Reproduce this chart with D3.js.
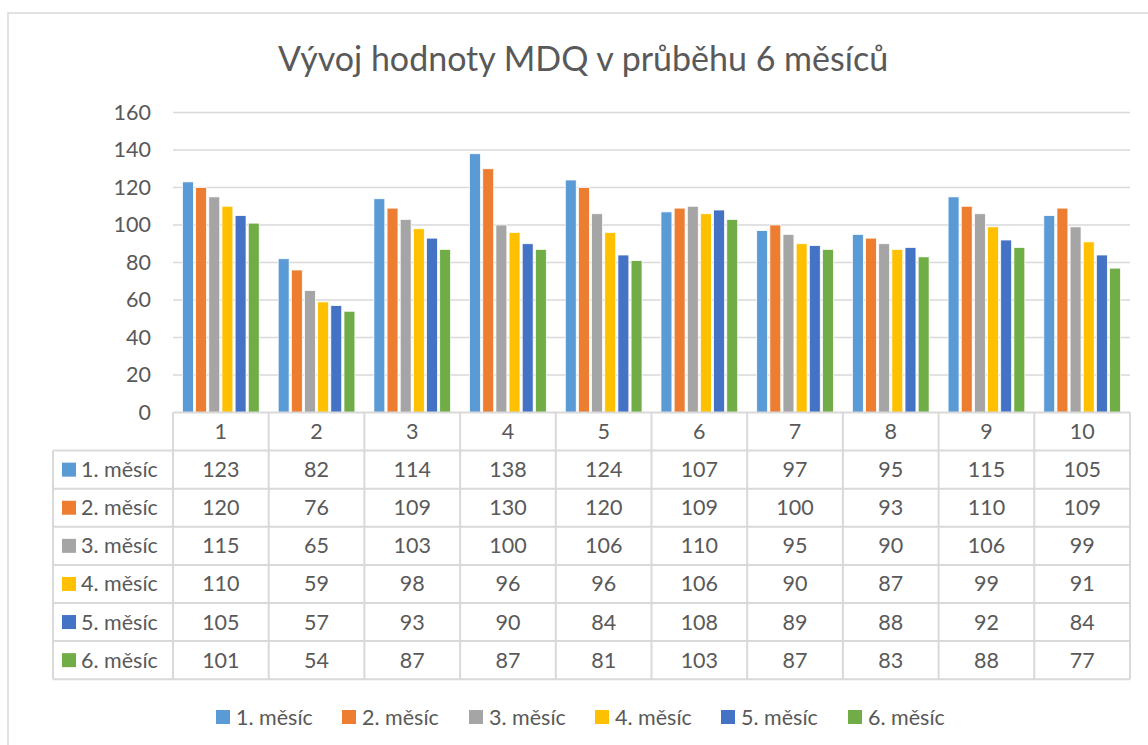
<!doctype html>
<html lang="cs">
  <head>
    <meta charset="UTF-8" />
    <title>Vývoj hodnoty MDQ</title>
    <script src="https://cdn.jsdelivr.net/npm/d3@7"></script>
    <style>
      body { margin: 0; background: #fff; }
      text { font-family: Lato, "Open Sans", sans-serif; fill: #595959; }
    </style>
  </head>
  <body>
    <div id="chart"></div>
    <script>
      const categories = ["1", "2", "3", "4", "5", "6", "7", "8", "9", "10"];
      const seriesNames = ["1. měsíc", "2. měsíc", "3. měsíc", "4. měsíc", "5. měsíc", "6. měsíc"];
      const month1 = [123, 82, 114, 138, 124, 107, 97, 95, 115, 105];
      const month2 = [120, 76, 109, 130, 120, 109, 100, 93, 110, 109];
      const month3 = [115, 65, 103, 100, 106, 110, 95, 90, 106, 99];
      const month4 = [110, 59, 98, 96, 96, 106, 90, 87, 99, 91];
      const month5 = [105, 57, 93, 90, 84, 108, 89, 88, 92, 84];
      const month6 = [101, 54, 87, 87, 81, 103, 87, 83, 88, 77];
      const yTicks = [0, 20, 40, 60, 80, 100, 120, 140, 160];
      const colors = ["#5B9BD5", "#ED7D31", "#A5A5A5", "#FFC000", "#4472C4", "#70AD47"];

      const values = [month1, month2, month3, month4, month5, month6];

      const width = 1148;
      const height = 745;
      const plotLeft = 173;
      const plotRight = 1130;
      const plotTop = 112.5;
      const plotBottom = 412.5;
      const rowH = 38.1;
      const tableLeft = 53;
      const fs = 21.5;

      const svg = d3.select("#chart").append("svg")
          .attr("width", width)
          .attr("height", height);

      // outer chart border (runs off the right and bottom edges)
      svg.append("rect")
          .attr("x", 8).attr("y", 13)
          .attr("width", width + 20).attr("height", height + 20)
          .attr("fill", "none")
          .attr("stroke", "#d9d9d9")
          .attr("stroke-width", 1.5);

      svg.append("text")
          .attr("x", 583).attr("y", 71)
          .attr("text-anchor", "middle")
          .attr("font-size", 34)
          .text("Vývoj hodnoty MDQ v průběhu 6 měsíců");

      const x0 = d3.scaleBand()
          .domain(categories)
          .range([plotLeft, plotRight]);

      const x1 = d3.scaleBand()
          .domain(seriesNames)
          .range([9.5, x0.bandwidth() - 9.5])
          .paddingInner(0.17);

      const y = d3.scaleLinear()
          .domain([0, 160])
          .range([plotBottom, plotTop]);

      // gridlines
      svg.append("g")
        .selectAll("line")
        .data(yTicks.filter(d => d > 0))
        .join("line")
          .attr("x1", plotLeft).attr("x2", plotRight)
          .attr("y1", d => y(d)).attr("y2", d => y(d))
          .attr("stroke", "#d9d9d9")
          .attr("stroke-width", 1.5);

      // y axis labels
      const yAxis = svg.append("g")
          .attr("transform", `translate(${plotLeft - 22},0)`)
          .call(d3.axisLeft(y).tickValues(yTicks).tickSize(0).tickPadding(0));
      yAxis.select(".domain").remove();
      yAxis.selectAll("text")
          .attr("font-size", fs)
          .attr("font-family", "Lato, 'Open Sans', sans-serif")
          .attr("fill", "#595959");

      // bars
      svg.append("g")
        .selectAll("g")
        .data(categories)
        .join("g")
          .attr("transform", d => `translate(${x0(d)},0)`)
        .selectAll("rect")
        .data((c, ci) => seriesNames.map((s, si) => ({ s, si, v: values[si][ci] })))
        .join("rect")
          .attr("x", d => x1(d.s))
          .attr("y", d => y(d.v))
          .attr("width", x1.bandwidth())
          .attr("height", d => y(0) - y(d.v))
          .attr("fill", d => colors[d.si])
          .attr("stroke", "#fff")
          .attr("stroke-width", 0.75);

      // data table
      const table = svg.append("g");
      const nRows = seriesNames.length;
      const tableBottom = plotBottom + rowH * (nRows + 1);
      const grid = "#d9d9d9";

      // horizontal lines
      table.append("line")
          .attr("x1", plotLeft).attr("x2", plotRight)
          .attr("y1", plotBottom).attr("y2", plotBottom)
          .attr("stroke", grid).attr("stroke-width", 2);
      for (let r = 1; r <= nRows + 1; r++) {
        table.append("line")
            .attr("x1", tableLeft).attr("x2", plotRight)
            .attr("y1", plotBottom + rowH * r).attr("y2", plotBottom + rowH * r)
            .attr("stroke", grid).attr("stroke-width", 2);
      }
      // vertical lines
      table.append("line")
          .attr("x1", tableLeft).attr("x2", tableLeft)
          .attr("y1", plotBottom + rowH).attr("y2", tableBottom)
          .attr("stroke", grid).attr("stroke-width", 2);
      table.selectAll(".vline")
        .data(categories.concat(["end"]))
        .join("line")
          .attr("class", "vline")
          .attr("x1", (d, i) => plotLeft + i * x0.bandwidth())
          .attr("x2", (d, i) => plotLeft + i * x0.bandwidth())
          .attr("y1", plotBottom).attr("y2", tableBottom)
          .attr("stroke", grid).attr("stroke-width", 2);

      // header numbers
      table.selectAll(".cat")
        .data(categories)
        .join("text")
          .attr("class", "cat")
          .attr("x", d => x0(d) + x0.bandwidth() / 2)
          .attr("y", plotBottom + rowH / 2 + 7.5)
          .attr("text-anchor", "middle")
          .attr("font-size", fs)
          .text(d => d);

      // rows
      seriesNames.forEach((s, si) => {
        const cy = plotBottom + rowH * (si + 1) + rowH / 2;
        table.append("rect")
            .attr("x", 62).attr("y", cy - 7)
            .attr("width", 14).attr("height", 14)
            .attr("fill", colors[si]);
        table.append("text")
            .attr("x", 81).attr("y", cy + 7.5)
            .attr("font-size", fs)
            .text(s);
        table.selectAll(".v" + si)
          .data(values[si])
          .join("text")
            .attr("class", "v" + si)
            .attr("x", (d, i) => x0(categories[i]) + x0.bandwidth() / 2)
            .attr("y", cy + 7.5)
            .attr("text-anchor", "middle")
            .attr("font-size", fs)
            .text(d => d);
      });

      // legend
      const legend = svg.append("g").attr("transform", "translate(0,717)");
      const legendX = [216, 342, 469, 595, 721, 848];
      seriesNames.forEach((s, si) => {
        legend.append("rect")
            .attr("x", legendX[si]).attr("y", -7)
            .attr("width", 14).attr("height", 14)
            .attr("fill", colors[si]);
        legend.append("text")
            .attr("x", legendX[si] + 20).attr("y", 7.5)
            .attr("font-size", fs)
            .text(s);
      });
    </script>
  </body>
</html>
